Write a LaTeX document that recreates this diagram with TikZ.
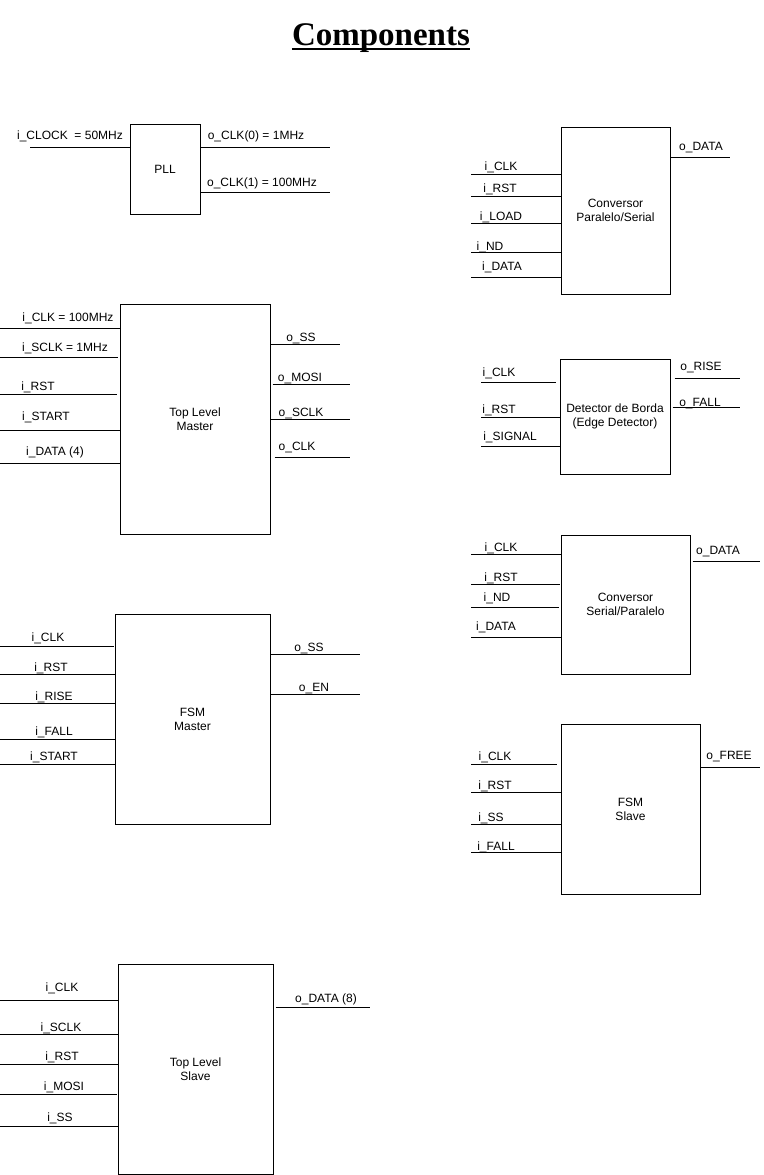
\documentclass[tikz,border=0pt]{standalone}
\usepackage{fontspec}
\setmainfont{Liberation Sans}
\newfontfamily\titlefont{Liberation Serif}
\usetikzlibrary{calc}
\tikzset{
  blk/.style={draw, line width=1pt, inner sep=0pt, align=center, font=\fontsize{12}{14}\selectfont},
  pinline/.style={line width=1pt},
  lbl/.style={anchor=base, inner sep=0pt, font=\fontsize{12}{14}\selectfont},
}
% input pin: box, gap, xstart, yline, labelx, labely, text
\newcommand\ipin[7]{%
  \coordinate (pinfree) at (#3,#4);
  \draw[pinline] (pinfree) -- ($(#1.west |- pinfree)+(-#2,0)$);
  \node[lbl] at (#5,#6+4.3) {#7};}
% output pin: box, gap, xend, yline, labelx, labely, text
\newcommand\opin[7]{%
  \coordinate (pinfree) at (#3,#4);
  \draw[pinline] ($(#1.east |- pinfree)+(#2,0)$) -- (pinfree);
  \node[lbl] at (#5,#6+4.3) {#7};}
\begin{document}
\begin{tikzpicture}[x=1pt,y=-1pt]
\useasboundingbox (0,0) rectangle (763,1175);

% title
\node[font=\titlefont\fontsize{33}{37}\selectfont\bfseries, anchor=base, inner sep=0pt] (title) at (381,45) {Components};
\draw[line width=2pt] ($(title.base west)+(0,4)$) -- ($(title.base east)+(0,4)$);

% boxes
\node[blk, minimum width=70pt,  minimum height=90pt]  (pll)  at (165,169)     {PLL};
\node[blk, minimum width=109pt, minimum height=167pt] (ps)   at (615.5,210.5) {Conversor\\Paralelo/Serial};
\node[blk, minimum width=150pt, minimum height=230pt] (tlm)  at (195,419)     {Top Level\\Master};
\node[blk, minimum width=110pt, minimum height=115pt] (ed)   at (615,416.5)   {Detector de Borda\\(Edge Detector)};
\node[blk, minimum width=129pt, minimum height=139pt] (sp)   at (625.5,604.5) {Conversor\\Serial/Paralelo};
\node[blk, minimum width=155pt, minimum height=210pt] (fsmm) at (192.5,719)   {FSM\\Master};
\node[blk, minimum width=139pt, minimum height=170pt] (fsms) at (630.5,809)   {FSM\\Slave};
\node[blk, minimum width=155pt, minimum height=210pt] (tls)  at (195.5,1069)  {Top Level\\Slave};

% PLL
\ipin{pll}{0}{30}{147}{70}{135}{i\_CLOCK~ = 50MHz}
\opin{pll}{0}{330}{147}{256}{135}{o\_CLK(0) = 1MHz}
\opin{pll}{0}{330}{192}{262}{182}{o\_CLK(1) = 100MHz}

% Conversor Paralelo/Serial
\ipin{ps}{0}{471}{174}{501}{166}{i\_CLK}
\ipin{ps}{0}{471}{196}{500}{188}{i\_RST}
\ipin{ps}{0}{471}{223}{501}{216}{i\_LOAD}
\ipin{ps}{0}{471}{252}{490}{246}{i\_ND}
\ipin{ps}{0}{471}{277}{502}{266}{i\_DATA}
\opin{ps}{0}{730}{157}{701}{146}{o\_DATA}

% Top Level Master
\ipin{tlm}{0}{0}{328}{68}{317}{i\_CLK = 100MHz}
\ipin{tlm}{2}{0}{357}{65}{347}{i\_SCLK = 1MHz}
\ipin{tlm}{3}{0}{394}{38}{386}{i\_RST}
\ipin{tlm}{0}{0}{430}{46}{416}{i\_START}
\ipin{tlm}{0}{0}{463}{55}{451}{i\_DATA (4)}
\opin{tlm}{0}{340}{344}{301}{337}{o\_SS}
\opin{tlm}{2}{350}{384}{300}{377}{o\_MOSI}
\opin{tlm}{0}{350}{419}{301}{412}{o\_SCLK}
\opin{tlm}{4}{350}{457}{297}{446}{o\_CLK}

% Detector de Borda
\ipin{ed}{4}{481}{382}{499}{372}{i\_CLK}
\ipin{ed}{0}{481}{417}{499}{409}{i\_RST}
\ipin{ed}{0}{481}{446}{510}{436}{i\_SIGNAL}
\opin{ed}{4}{740}{378}{701}{366}{o\_RISE}
\opin{ed}{2}{740}{407}{700}{402}{o\_FALL}

% Conversor Serial/Paralelo
\ipin{sp}{0}{471}{554}{501}{547}{i\_CLK}
\ipin{sp}{1}{471}{584}{501}{577}{i\_RST}
\ipin{sp}{2}{471}{607}{497}{597}{i\_ND}
\ipin{sp}{0}{471}{637}{496}{626}{i\_DATA}
\opin{sp}{2}{760}{561}{718}{550}{o\_DATA}

% FSM Master
\ipin{fsmm}{1}{0}{646}{48}{637}{i\_CLK}
\ipin{fsmm}{0}{0}{674}{51}{667}{i\_RST}
\ipin{fsmm}{0}{0}{703}{54}{696}{i\_RISE}
\ipin{fsmm}{0}{0}{739}{54}{731}{i\_FALL}
\ipin{fsmm}{0}{0}{764}{54}{756}{i\_START}
\opin{fsmm}{0}{360}{654}{309}{647}{o\_SS}
\opin{fsmm}{0}{360}{694}{314}{687}{o\_EN}

% FSM Slave
\ipin{fsms}{4}{471}{764}{495}{756}{i\_CLK}
\ipin{fsms}{0}{471}{792}{495}{785}{i\_RST}
\ipin{fsms}{0}{471}{824}{491}{817}{i\_SS}
\ipin{fsms}{0}{471}{852}{496}{846}{i\_FALL}
\opin{fsms}{0}{760}{767}{729}{755}{o\_FREE}

% Top Level Slave
\ipin{tls}{0}{0}{1000}{62}{987}{i\_CLK}
\ipin{tls}{0}{0}{1034}{61}{1027}{i\_SCLK}
\ipin{tls}{0}{0}{1064}{62}{1056}{i\_RST}
\ipin{tls}{1}{0}{1094}{64}{1086}{i\_MOSI}
\ipin{tls}{0}{0}{1126}{60}{1117}{i\_SS}
\opin{tls}{2}{370}{1007}{326}{998}{o\_DATA (8)}
\end{tikzpicture}
\end{document}
